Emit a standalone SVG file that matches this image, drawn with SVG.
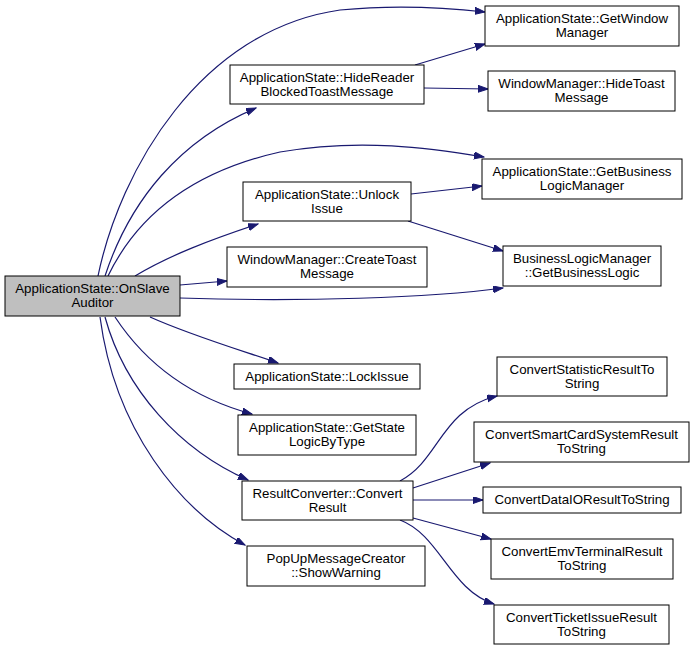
<svg xmlns="http://www.w3.org/2000/svg" width="695" height="651" viewBox="0 0 695 651">
<defs>
<marker id="ah" markerWidth="11" markerHeight="8" refX="10" refY="3.5" orient="auto" markerUnits="userSpaceOnUse">
<path d="M0,0 L10,3.5 L0,7 z" fill="#191970" stroke="#191970"/>
</marker>
<style>
.n rect{fill:#fff;stroke:#000;stroke-width:1}
.n text{font-family:"Liberation Sans",Arial,sans-serif;font-size:13.3px;text-anchor:middle;fill:#000}
#root rect{fill:#bfbfbf}
#edges path{fill:none;stroke:#191970;stroke-width:1.2;marker-end:url(#ah)}
</style>
</defs>
<rect width="695" height="651" fill="#fff"/>
<g id="edges">
<path d="M98,276 C120,170 200,30 340,10 C400,4 450,8 485,12"/>
<path d="M105,276 C130,200 180,140 256,108"/>
<path d="M415,65 L485,44"/>
<path d="M424,88 L488,89"/>
<path d="M108,276 C140,210 200,170 280,152 C360,138 430,148 484,157"/>
<path d="M135,276 C170,255 210,240 258,224"/>
<path d="M411,194 L482,186"/>
<path d="M408,221 L503,251"/>
<path d="M180,285 L227,281"/>
<path d="M180,298 C300,302 430,298 503,288"/>
<path d="M150,317 C190,335 240,350 278,363"/>
<path d="M115,317 C150,370 200,400 252,414"/>
<path d="M105,317 C125,390 180,450 248,480"/>
<path d="M100,317 C115,430 180,510 245,545"/>
<path d="M400,481 C440,460 440,410 497,396"/>
<path d="M413,488 L490,463"/>
<path d="M413,500 L483,500"/>
<path d="M413,518 L491,539"/>
<path d="M400,520 C440,535 450,590 494,604"/>
</g>
<g id="root" class="n"><rect x="5" y="276" width="175" height="40"/><text x="92.5" y="293">ApplicationState::OnSlave</text><text x="92.5" y="307">Auditor</text></g>
<g id="getwindowmanager" class="n"><rect x="485" y="6" width="194" height="40"/><text x="582" y="23">ApplicationState::GetWindow</text><text x="582" y="37">Manager</text></g>
<g id="hidereader" class="n"><rect x="230" y="65" width="194" height="39"/><text x="327" y="82">ApplicationState::HideReader</text><text x="327" y="96">BlockedToastMessage</text></g>
<g id="hidetoast" class="n"><rect x="488" y="71" width="187" height="40"/><text x="581.5" y="88">WindowManager::HideToast</text><text x="581.5" y="102">Message</text></g>
<g id="getblm" class="n"><rect x="482" y="159" width="200" height="40"/><text x="582" y="176">ApplicationState::GetBusiness</text><text x="582" y="190">LogicManager</text></g>
<g id="unlock" class="n"><rect x="243" y="182" width="168" height="39"/><text x="327" y="199">ApplicationState::Unlock</text><text x="327" y="213">Issue</text></g>
<g id="createtoast" class="n"><rect x="227" y="247" width="200" height="40"/><text x="327" y="264">WindowManager::CreateToast</text><text x="327" y="278">Message</text></g>
<g id="getbl" class="n"><rect x="503" y="246" width="158" height="40"/><text x="582" y="263">BusinessLogicManager</text><text x="582" y="277">::GetBusinessLogic</text></g>
<g id="lockissue" class="n"><rect x="234" y="364" width="186" height="25"/><text x="327" y="381">ApplicationState::LockIssue</text></g>
<g id="getstatelogic" class="n"><rect x="238" y="415" width="178" height="40"/><text x="327" y="432">ApplicationState::GetState</text><text x="327" y="446">LogicByType</text></g>
<g id="convertresult" class="n"><rect x="242" y="481" width="171" height="39"/><text x="327.5" y="498">ResultConverter::Convert</text><text x="327.5" y="512">Result</text></g>
<g id="showwarning" class="n"><rect x="247" y="546" width="178" height="40"/><text x="336" y="563">PopUpMessageCreator</text><text x="336" y="577">::ShowWarning</text></g>
<g id="cstat" class="n"><rect x="497" y="357" width="170" height="39"/><text x="582" y="374">ConvertStatisticResultTo</text><text x="582" y="388">String</text></g>
<g id="csmart" class="n"><rect x="474" y="422" width="215" height="40"/><text x="581.5" y="439">ConvertSmartCardSystemResult</text><text x="581.5" y="453">ToString</text></g>
<g id="cdataio" class="n"><rect x="483" y="487" width="198" height="26"/><text x="582" y="504">ConvertDataIOResultToString</text></g>
<g id="cemv" class="n"><rect x="491" y="539" width="182" height="40"/><text x="582" y="556">ConvertEmvTerminalResult</text><text x="582" y="570">ToString</text></g>
<g id="cticket" class="n"><rect x="494" y="605" width="175" height="39"/><text x="581.5" y="622">ConvertTicketIssueResult</text><text x="581.5" y="636">ToString</text></g>
</svg>
